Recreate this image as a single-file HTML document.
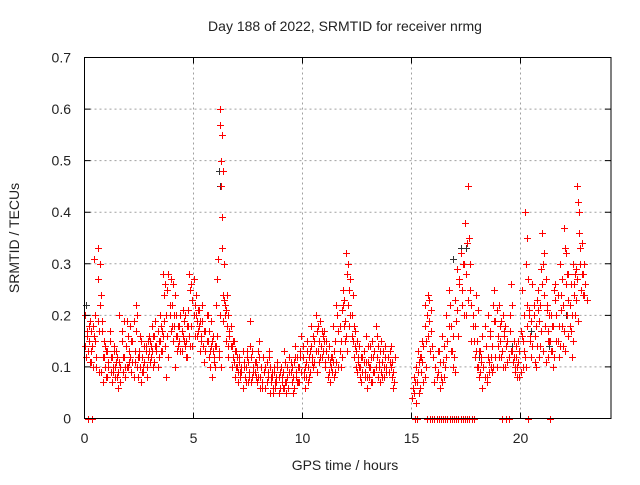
<!DOCTYPE html>
<html><head><meta charset="utf-8"><style>
html,body{margin:0;padding:0;background:#fff}
svg text{font-family:"Liberation Sans",sans-serif;font-size:14px;fill:#222}
</style></head><body>
<svg id="chart" width="640" height="480" xmlns="http://www.w3.org/2000/svg">
<rect width="640" height="480" fill="#fff"/>
<text x="345" y="31" text-anchor="middle">Day 188 of 2022, SRMTID for receiver nrmg</text>
<text x="345" y="470" text-anchor="middle">GPS time / hours</text>
<text transform="translate(19,238) rotate(-90)" text-anchor="middle">SRMTID / TECUs</text>
<g id="grid"></g>
<g id="blk"></g>
<g id="red"></g>
<g id="axes"></g>
</svg>
<script>
const xTicks=[0,5,10,15,20];
const yTicks=[0,0.1,0.2,0.3,0.4,0.5,0.6,0.7];
const yTickLabels=["0","0.1","0.2","0.3","0.4","0.5","0.6","0.7"];
const bucketTimes=[0,0.2,0.4,0.6,0.8,1,1.2,1.4,1.6,1.8,2,2.2,2.4,2.6,2.8,3,3.2,3.4,3.6,3.8,4,4.2,4.4,4.6,4.8,5,5.2,5.4,5.6,5.8,6,6.2,6.4,6.6,6.8,7,7.2,7.4,7.6,7.8,8,8.2,8.4,8.6,8.8,9,9.2,9.4,9.6,9.8,10,10.2,10.4,10.6,10.8,11,11.2,11.4,11.6,11.8,12,12.2,12.4,12.6,12.8,13,13.2,13.4,13.6,13.8,14,15,15.2,15.4,15.6,15.8,16,16.2,16.4,16.6,16.8,17,17.2,17.4,17.6,17.8,18,18.2,18.4,18.6,18.8,19,19.2,19.4,19.6,19.8,20,20.2,20.4,20.6,20.8,21,21.2,21.4,21.6,21.8,22,22.2,22.4,22.6,22.8];
const bucketValues=[
[0.14,0.2,0.12,0.17,0],[0.15,0.19,0.11,0.13,0],[0.18,0.31,0.2,0.1],[0.33,0.27,0.17,0.22,0.09],[0.17,0.07,0.12,0.14],
[0.13,0.08,0.1,0.17],[0.12,0.07,0.09,0.14],[0.1,0.13,0.08,0.06],[0.2,0.1,0.15,0.09],[0.12,0.08,0.14,0.19],
[0.1,0.13,0.18,0.09],[0.15,0.19,0.11,0.22],[0.1,0.08,0.13,0.16],[0.07,0.12,0.1,0.14],[0.14,0.1,0.15,0.13],
[0.15,0.12,0.18,0.1],[0.16,0.19,0.13,0.1],[0.15,0.2,0.13,0.17],[0.28,0.24,0.14,0.08],[0.25,0.28,0.2,0.17],
[0.22,0.26,0.18,0.1],[0.2,0.16,0.14,0.18],[0.13,0.17,0.21,0.15],[0.2,0.15,0.12,0.18],[0.28,0.25,0.18,0.14],
[0.27,0.22,0.2,0.16],[0.21,0.18,0.13,0.15],[0.19,0.14,0.11,0.17],[0.2,0.15,0.12,0.1],[0.14,0.08,0.13,0.11],
[0.14,0.22,0.27,0.31,0.12],[0.6,0.57,0.5,0.45,0.39,0.33,0.24,0.19],[0.23,0.2,0.15,0.24,0.12],[0.2,0.16,0.14,0.1],[0.15,0.11,0.08,0.13],
[0.1,0.07,0.12,0.09],[0.09,0.06,0.11,0.08],[0.1,0.13,0.07,0.08],[0.19,0.12,0.08,0.1],[0.09,0.11,0.07,0.13],
[0.15,0.08,0.1,0.06],[0.12,0.09,0.06,0.11],[0.09,0.12,0.05,0.08],[0.08,0.05,0.1,0.07],[0.07,0.1,0.05,0.09],
[0.1,0.08,0.06,0.13],[0.07,0.05,0.1,0.06],[0.12,0.09,0.07,0.05],[0.11,0.14,0.08,0.07],[0.1,0.07,0.13,0.16],
[0.12,0.09,0.06,0.11],[0.15,0.1,0.08,0.13],[0.18,0.12,0.1,0.15],[0.2,0.17,0.13,0.11],[0.19,0.14,0.12,0.16],
[0.17,0.1,0.13,0.08],[0.14,0.07,0.1,0.12],[0.18,0.13,0.09,0.22],[0.2,0.17,0.13,0.1],[0.21,0.25,0.18,0.15],
[0.32,0.28,0.22,0.18],[0.27,0.2,0.15,0.12],[0.17,0.13,0.09,0.11],[0.14,0.1,0.07,0.12],[0.13,0.09,0.16,0.06],
[0.11,0.08,0.14,0.07],[0.15,0.12,0.09,0.18],[0.12,0.14,0.1,0.07],[0.15,0.11,0.13,0.08],[0.14,0.1,0.12,0.09],
[0.13,0.1,0.08,0.06],
[0.04,0.06,0.08,0],[0.1,0.07,0.13,0.05],[0.12,0.09,0.15,0.07],[0.22,0.18,0.15,0,0.24],[0.19,0.13,0.21,0],
[0.12,0.07,0.1,0],[0.09,0.13,0.06,0],[0.16,0.11,0.08,0],[0.2,0.15,0.25,0],[0.18,0.13,0.1,0],
[0.23,0.19,0.29,0],[0.27,0.32,0.22,0],[0.3,0.38,0.2,0],[0.45,0.35,0.25,0.15,0],[0.2,0.15,0.12,0.24],
[0.15,0.1,0.08,0.13],[0.12,0.06,0.1,0.18],[0.14,0.08,0.2,0.11],[0.16,0.12,0.09,0.22],[0.25,0.19,0.1,0.14],
[0.22,0.15,0.12,0],[0.2,0.17,0.1,0],[0.15,0.12,0.2,0.26],[0.13,0.11,0.15,0.09],[0.12,0.1,0.15,0.08],
[0.17,0.25,0.1,0.13],[0.4,0.3,0.22,0.18,0],[0.21,0.15,0.12,0.26],[0.2,0.16,0.1,0.23],[0.25,0.19,0.14,0.29],
[0.36,0.3,0.24,0.18,0.11],[0.22,0.17,0.12,0.15,0],[0.2,0.13,0.1,0.25],[0.26,0.2,0.15,0.12],[0.3,0.24,0.18,0.14],
[0.37,0.33,0.26,0.2,0.16],[0.28,0.22,0.17,0.12],[0.3,0.26,0.2,0.29],[0.45,0.42,0.36,0.3,0.25],[0.34,0.28,0.24]
];
const bucketValues2=[
[0.16,0.13,0.18,0.11],[0.17,0.14,0.1,0.16],[0.15,0.12,0.19,0.09],[0.3,0.24,0.19,0.12],[0.15,0.1,0.08,0.13],
[0.11,0.15,0.09,0.12],[0.1,0.13,0.08,0.11],[0.12,0.09,0.11,0.07],[0.17,0.12,0.19,0.1],[0.14,0.1,0.16,0.11],
[0.12,0.15,0.11,0.08],[0.13,0.17,0.2,0.12],[0.12,0.1,0.15,0.09],[0.09,0.11,0.13,0.08],[0.12,0.16,0.11,0.14],
[0.13,0.16,0.11,0.14],[0.14,0.17,0.12,0.15],[0.18,0.13,0.16,0.19],[0.26,0.2,0.16,0.12],[0.22,0.27,0.18,0.15],
[0.2,0.24,0.16,0.13],[0.18,0.15,0.2,0.13],[0.16,0.19,0.14,0.12],[0.18,0.21,0.16,0.14],[0.26,0.23,0.2,0.16],
[0.24,0.19,0.17,0.21],[0.19,0.16,0.22,0.14],[0.17,0.13,0.15,0.2],[0.17,0.13,0.19,0.15],[0.16,0.12,0.1,0.14],
[0.16,0.13,0.2,0.1],[0.55,0.48,0.3,0.22],[0.21,0.18,0.14,0.17],[0.18,0.14,0.12,0.15],[0.13,0.1,0.12,0.09],
[0.11,0.08,0.1,0.13],[0.1,0.08,0.07,0.12],[0.11,0.09,0.14,0.07],[0.13,0.09,0.11,0.08],[0.1,0.08,0.12,0.06],
[0.1,0.07,0.12,0.09],[0.1,0.07,0.08,0.13],[0.1,0.07,0.09,0.06],[0.09,0.06,0.08,0.11],[0.08,0.06,0.1,0.07],
[0.09,0.06,0.11,0.07],[0.08,0.06,0.09,0.11],[0.1,0.08,0.06,0.12],[0.09,0.12,0.07,0.1],[0.12,0.09,0.14,0.08],
[0.1,0.08,0.13,0.07],[0.12,0.09,0.14,0.11],[0.16,0.11,0.13,0.09],[0.18,0.15,0.12,0.14],[0.17,0.13,0.15,0.11],
[0.15,0.12,0.09,0.11],[0.12,0.09,0.11,0.08],[0.15,0.11,0.2,0.1],[0.18,0.15,0.12,0.22],[0.23,0.19,0.16,0.13],
[0.3,0.25,0.2,0.16],[0.24,0.18,0.14,0.1],[0.15,0.12,0.1,0.08],[0.12,0.09,0.11,0.08],[0.11,0.08,0.14,0.1],
[0.1,0.12,0.07,0.09],[0.13,0.1,0.16,0.08],[0.11,0.13,0.09,0.08],[0.13,0.1,0.12,0.09],[0.12,0.09,0.11,0.14],
[0.11,0.09,0.07,0.12],
[0.05,0.07,0.03,0],[0.09,0.11,0.06,0.12],[0.11,0.14,0.08,0.1],[0.2,0.16,0.23,0],[0.17,0.14,0.12,0],
[0.1,0.08,0.13,0],[0.11,0.08,0.07,0],[0.14,0.1,0.12,0],[0.18,0.22,0.13,0],[0.16,0.12,0.09,0],
[0.21,0.16,0.26,0],[0.25,0.3,0.2,0],[0.28,0.34,0.23,0],[0.3,0.22,0.18,0],[0.18,0.13,0.1,0.21],
[0.13,0.09,0.11,0.16],[0.1,0.08,0.14,0.07],[0.12,0.09,0.17,0.1],[0.14,0.1,0.19,0.12],[0.21,0.16,0.12,0.18],
[0.19,0.13,0.1,0.16],[0.18,0.14,0.11,0],[0.17,0.13,0.22,0.11],[0.12,0.1,0.14,0.08],[0.11,0.13,0.09,0.16],
[0.15,0.2,0.12,0.1],[0.35,0.27,0.2,0.16],[0.19,0.14,0.22,0.11],[0.18,0.14,0.21,0.12],[0.22,0.17,0.26,0.13],
[0.32,0.27,0.21,0.15],[0.2,0.15,0.13,0.18],[0.18,0.12,0.23,0.15],[0.24,0.18,0.14,0.21],[0.27,0.22,0.17,0.13],
[0.32,0.28,0.23,0.18],[0.26,0.2,0.15,0.24],[0.28,0.23,0.27,0.19],[0.4,0.33,0.28,0.24],[0.3,0.26,0.23]
];
const blackTimes=[0.05,1.1,3.3,6.15,6.2,9.3,13.9,15.7,16.9,17.25,17.5,18.1,19.6,20.5,21.3,22.1];
const blackValues=[0.22,0.1,0.14,0.48,0.45,0.08,0.12,0.2,0.31,0.33,0.33,0.12,0.14,0.17,0.14,0.2];

const L=84.5,R=611,T=57.5,B=418.5;
const xs=v=>L+v*21.8, ys=v=>B-v*(B-T)/0.7;
const NS="http://www.w3.org/2000/svg";
function mk(tag,attrs,parent){const e=document.createElementNS(NS,tag);for(const k in attrs)e.setAttribute(k,attrs[k]);parent.appendChild(e);return e;}
const grid=document.getElementById('grid'),axes=document.getElementById('axes');
xTicks.forEach((t,i)=>{const x=xs(t);
 if(t>0){const g=mk('line',{x1:x,x2:x,y1:T,y2:B,stroke:'#a0a0a0','stroke-dasharray':'2,3'},grid);
 
 }
 const tk=mk('path',{d:`M${x},${B}v-6M${x},${T}v6`,stroke:'#000'},axes);
 
 
 const lb=mk('text',{x:x,y:443,'text-anchor':'middle'},axes);lb.textContent=String(t);
 
 
});
yTicks.forEach((t,i)=>{const y=ys(t);
 if(t>0&&t<0.7){const g=mk('line',{x1:L,x2:R,y1:y,y2:y,stroke:'#a0a0a0','stroke-dasharray':'2,3'},grid);
 
 }
 const tk=mk('path',{d:`M${L},${y}h6M${R},${y}h-6`,stroke:'#000'},axes);
 
 
 const lb=mk('text',{x:71,y:y+5,'text-anchor':'end'},axes);lb.textContent=yTickLabels[i];
 
 
});
const fr=mk('rect',{x:L,y:T,width:R-L,height:B-T,fill:'none',stroke:'#000'},axes);


function plus(g,t,v,color,name){const x=Math.round(xs(t))+0.5,y=Math.round(ys(v))+0.5;
 const p=mk('path',{d:`M${x-3.5},${y}h7M${x},${y-3.5}v7`,stroke:color,'stroke-width':1},g);
 
 }
const blk=document.getElementById('blk'),red=document.getElementById('red');
blackTimes.forEach((t,i)=>plus(blk,t,blackValues[i],'#333','black-point'));
bucketTimes.forEach((t,i)=>{const vals=bucketValues[i];
 vals.forEach((v,j)=>plus(red,t+0.2*j/vals.length,v,'#ff0000','red-point'));});
bucketTimes.forEach((t,i)=>{const vals=bucketValues2[i];
 vals.forEach((v,j)=>plus(red,t+0.1+0.2*j/vals.length,v,'#ff0000','red-point'));});
</script>
</body></html>
